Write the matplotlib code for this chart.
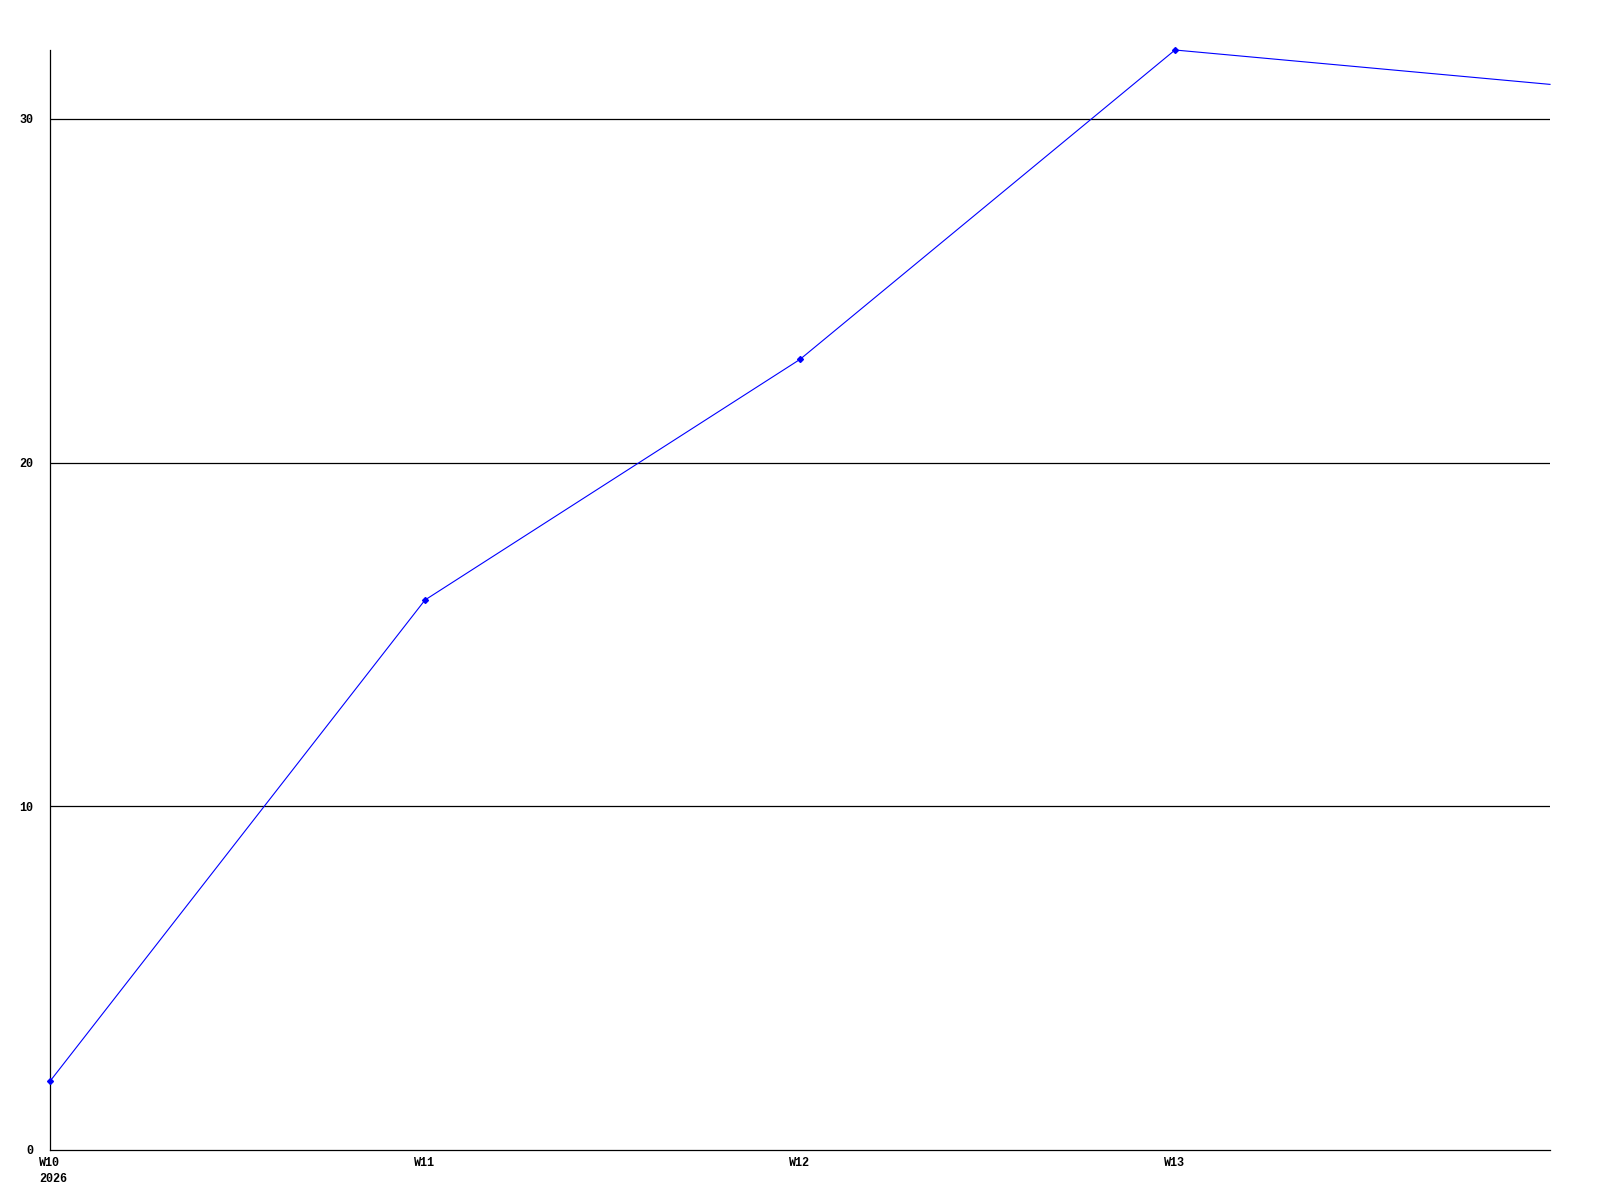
import matplotlib
matplotlib.use("Agg")
import matplotlib.pyplot as plt
import matplotlib.transforms as mtransforms

weeks = ["W10\n2026", "W11", "W12", "W13", "W14"]
values = [2, 16, 23, 32, 31]
y_ticks = [0, 10, 20, 30]

fig = plt.figure(figsize=(16, 12), dpi=100)
ax = fig.add_axes([50/1600, 50/1200, 1500/1600, 1100/1200])

x = list(range(len(weeks)))
ax.plot(x, values, color="#0000ff", linewidth=0.8, marker="D", markersize=3,
        markevery=list(range(len(weeks) - 1)), zorder=3, clip_on=False)

ax.set_xlim(0, len(weeks) - 1)
ax.set_ylim(0, 32)
for yv in y_ticks[1:]:
    ax.axhline(yv, color="black", linewidth=0.9, zorder=1)

ax.spines["top"].set_visible(False)
ax.spines["right"].set_visible(False)
for s in ("left", "bottom"):
    ax.spines[s].set_linewidth(0.9)
    ax.spines[s].set_color("black")

font = dict(family="Liberation Mono", weight="bold", size=8.5)
ax.set_yticks(y_ticks)
ax.set_yticklabels([str(v) for v in y_ticks], **font)
ax.tick_params(axis="y", length=0, pad=12)
ax.set_xticks(x[:-1])
ax.set_xticklabels(weeks[:-1], **font, ha="left", linespacing=1.45)
ax.tick_params(axis="x", length=0, pad=5)
offset = mtransforms.ScaledTranslation(-11/100, 0, fig.dpi_scale_trans)
for lbl in ax.get_xticklabels():
    lbl.set_transform(lbl.get_transform() + offset)

fig.savefig("out.png", dpi=100)
